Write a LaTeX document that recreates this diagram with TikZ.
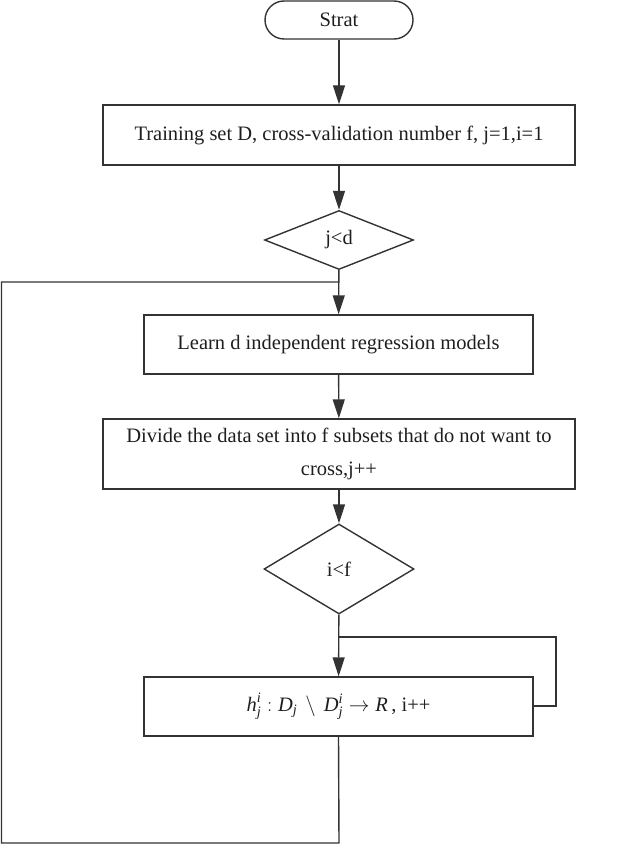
\documentclass[tikz,border=0pt]{standalone}
\usepackage{amsmath}
\usepackage{fontspec}
\setmainfont{Liberation Serif}
\usetikzlibrary{shapes.geometric,arrows.meta}
\definecolor{ln}{HTML}{333333}
\definecolor{tx}{HTML}{1E1E1E}
\newcommand{\ti}[1]{\textit{#1}}
\begin{document}
\begin{tikzpicture}[x=1pt,y=-1pt,
  every node/.style={font=\fontsize{20.5}{33}\selectfont, text=tx},
  procbox/.style={draw=ln, line width=1.4pt, rectangle, inner sep=0pt, align=center},
  startbox/.style={draw=ln, line width=1.4pt, rectangle, rounded corners=19pt, inner sep=0pt, minimum width=148pt, minimum height=38pt},
  decbox/.style={draw=ln, line width=1.4pt, diamond, inner sep=0pt},
  conn/.style={draw=ln, line width=1.4pt},
  arr/.style={conn, -{Triangle[length=19pt,width=12pt]}}]
\useasboundingbox (0,0) rectangle (624,845);
\node[startbox] (s) at (339,20) {Strat};
\node[procbox, minimum width=472pt, minimum height=60pt] (t) at (339,135) {Training set D, cross-validation number f, j=1,i=1};
\node[decbox, minimum width=149pt, minimum height=59pt] (d1) at (339,240) {j<d};
\node[procbox, minimum width=389pt, minimum height=59pt] (l) at (338.5,344.5) {Learn d independent regression models};
\node[procbox, minimum width=472pt, minimum height=70pt] (dv) at (339,454) {Divide the data set into f subsets that do not want to\\cross,j++};
\node[procbox, minimum width=389pt, minimum height=59pt] (h) at (338.5,706.5) {$\ti{h}^{\ti{i}}_{\ti{j}}\;{:}\;\ti{D}_{\ti{j}}\,\setminus\, \ti{D}^{\ti{i}}_{\ti{j}}\rightarrow \ti{R}$\,, i++};
\node[decbox, minimum width=150pt, minimum height=90pt] (d2) at (339,569) {i<f};
\coordinate (j1) at (339,282);
\coordinate (bl) at (1.5,843);
\coordinate (tl) at (1.5,282);
\coordinate (bm) at (339,843);
\coordinate (r1) at (556,706);
\coordinate (r2) at (556,637);
\coordinate (j2) at (339,637);
\draw[arr] (s) -- (t);
\draw[arr] (t) -- (d1);
\draw[arr] (d1) -- (l);
\draw[arr] (l) -- (dv);
\draw[arr] (dv) -- (d2);
\draw[arr] (d2) -- (h);
\draw[conn] (h.south) -- (bm) -- (bl) -- (tl) -- (j1);
\draw[conn] (h.east |- r1) -- (r1) -- (r2) -- (j2);
\end{tikzpicture}
\end{document}
